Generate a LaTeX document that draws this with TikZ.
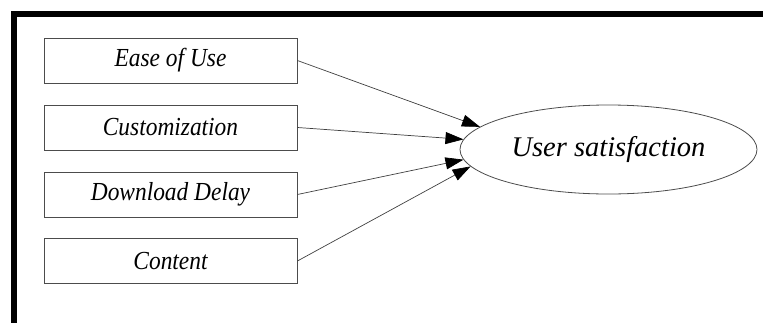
\documentclass[tikz,border=0pt]{standalone}
\usepackage{fontspec}
\setmainfont{Liberation Serif}
\newfontfamily\boxfont[FakeStretch=0.9]{Liberation Serif}
\usetikzlibrary{arrows.meta,shapes.geometric}
\begin{document}
\begin{tikzpicture}[x=1pt,y=-1pt,
  factor/.style={draw=black!70,line width=0.8pt,rectangle,minimum width=253pt,minimum height=45pt,inner sep=0pt,font=\boxfont\fontsize{26}{29}\selectfont\itshape},
  outcome/.style={draw=black!70,line width=0.8pt,ellipse,minimum width=297pt,minimum height=89pt,inner sep=0pt,font=\fontsize{28.5}{33}\selectfont\itshape},
  link/.style={draw=black!75,line width=0.7pt,-{Triangle[length=18pt,width=12pt,color=black]}},
  frame/.style={line width=5.5pt,line join=miter}]
\useasboundingbox (0,0) rectangle (763,322);
\draw[frame] (14,330) -- (14,14) -- (770,14);
\node[factor] (ease) at (170.5,60.5) {Ease of Use};
\node[factor] (cust) at (170.5,127.5) {Customization};
\node[factor] (down) at (170.5,194.5) {Download Delay};
\node[factor] (cont) at (170.5,261) {Content};
\node[outcome] (sat) at (608.5,149.5) {User satisfaction};
\draw[link] (ease.east) -- (sat.170.7);
\draw[link] (cust.east) -- (sat.176.3);
\draw[link] (down.east) -- (sat.184.2);
\draw[link] (cont.east) -- (sat.187.7);
\end{tikzpicture}
\end{document}
